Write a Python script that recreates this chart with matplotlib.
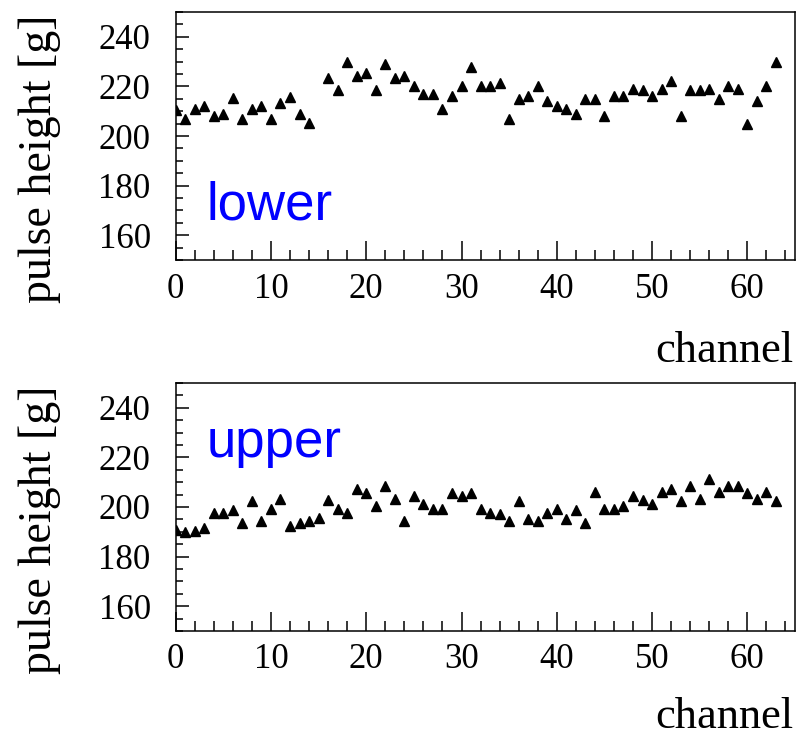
import numpy as np
import matplotlib.pyplot as plt
from matplotlib.ticker import MultipleLocator

# channel numbers (same for both panels)
channels = np.arange(64)

# pulse height of the lower layer, channel 15 has no entry
lower_height = [210.4, 207.0, 211.0, 212.1, 208.2, 209.0, 215.2, 206.9,
                210.9, 212.1, 207.0, 213.5, 215.9, 209.0, 205.3, np.nan,
                223.2, 218.4, 229.7, 224.0, 225.4, 218.4, 229.1, 223.4,
                224.3, 220.3, 217.1, 217.1, 210.9, 216.0, 220.3, 227.8,
                220.3, 220.3, 221.4, 207.0, 215.0, 216.0, 220.3, 214.0,
                212.0, 211.0, 209.0, 215.0, 215.0, 208.2, 216.3, 216.3,
                219.0, 218.4, 216.3, 219.0, 222.3, 208.2, 218.4, 218.4,
                219.0, 215.0, 220.3, 219.0, 205.0, 214.0, 220.3, 229.7]

# pulse height of the upper layer
upper_height = [190.9, 189.9, 190.5, 191.6, 197.4, 197.4, 198.7, 193.6,
                202.3, 194.3, 199.3, 203.3, 192.3, 193.6, 194.3, 195.4,
                203.0, 199.3, 197.7, 207.3, 205.7, 200.6, 208.4, 203.3,
                194.3, 204.6, 201.3, 199.3, 199.3, 205.7, 204.6, 205.7,
                199.3, 197.7, 197.0, 194.3, 202.3, 195.2, 194.3, 197.4,
                199.3, 195.2, 198.7, 193.6, 206.2, 199.0, 199.0, 200.6,
                204.6, 202.7, 201.3, 206.2, 207.3, 202.3, 208.4, 203.3,
                211.3, 206.2, 208.6, 208.6, 205.7, 203.3, 206.2, 202.3]

SERIF = "Liberation Serif"
SANS = "Liberation Sans"


def panel(ax, values, name, name_y, title_y):
    """
    Draw one pulse height panel in the ROOT look.

    Parameters
    ----------
    ax : Axes
        Axes to draw in.
    values : list
        Pulse heights per channel.
    name : str
        Blue label in the panel.
    name_y : float
        Baseline of the blue label in data units.
    title_y : float
        Baseline of the "channel" title in figure fraction.

    Returns
    -------
    None.

    """
    ax.plot(channels, values, linestyle="none", marker="^", ms=7.5,
            color="black", clip_on=True)

    # axis ranges and ticks
    ax.set_xlim(0, 65)
    ax.set_ylim(150, 250)
    ax.xaxis.set_major_locator(MultipleLocator(10))
    ax.xaxis.set_minor_locator(MultipleLocator(2))
    ax.yaxis.set_minor_locator(MultipleLocator(5))
    ax.set_yticks([160, 180, 200, 220, 240])
    ax.tick_params(axis="x", which="major", direction="in", length=13.5,
                   width=1.1, pad=9, labelsize=25)
    ax.tick_params(axis="x", which="minor", direction="in", length=7,
                   width=1.1)
    ax.tick_params(axis="y", which="major", direction="in", length=9,
                   width=1.1, pad=18, labelsize=25)
    ax.tick_params(axis="y", which="minor", direction="in", length=4.7,
                   width=1.1)
    for lbl in ax.get_xticklabels() + ax.get_yticklabels():
        lbl.set_fontfamily(SERIF)
    for sp in ax.spines.values():
        sp.set_linewidth(1.1)

    # y title, aligned to the top of the axis
    ax.text(-0.22, 0.99, "pulse height [g]", transform=ax.transAxes,
            rotation=90, ha="center", va="top", fontsize=33,
            family=SERIF)
    # x title at the lower right
    ax.figure.text(793 / 803, title_y, "channel", ha="right",
                   va="baseline", fontsize=32, family=SERIF)
    # blue panel name
    ax.text(3.2, name_y, name, color="blue", fontsize=38, family=SANS,
            ha="left", va="baseline")


fig = plt.figure(figsize=(8.03, 7.36), dpi=100)
ax_low = fig.add_axes([0.2188, 0.6467, 0.7712, 0.3370])
ax_up = fig.add_axes([0.2188, 0.1427, 0.7712, 0.3369])

panel(ax_low, lower_height, "lower", 166.4, 1 - 362 / 736)
panel(ax_up, upper_height, "upper", 220.3, 1 - 728 / 736)

fig.savefig("out.png", dpi=100)
